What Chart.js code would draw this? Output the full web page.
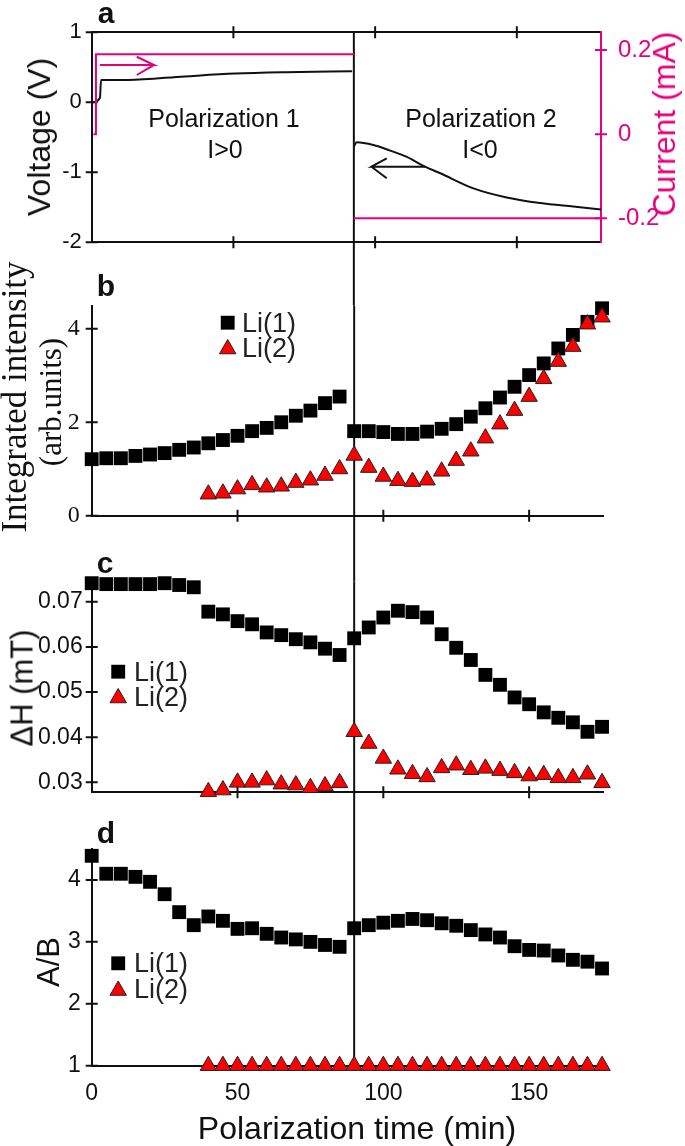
<!DOCTYPE html>
<html>
<head>
<meta charset="utf-8">
<script src="https://cdn.jsdelivr.net/npm/chart.js@4.4.1/dist/chart.umd.min.js"></script>
<style>
  body { margin: 0; background: #fff; }
  #page { position: relative; width: 685px; height: 1146px; overflow: hidden; font-family: "Liberation Sans", Arial, sans-serif; color: #111; }
  #page canvas { position: absolute; left: 0; top: 0; }
  .lbl { position: absolute; white-space: nowrap; line-height: 1; transform: translate(-50%, -50%); }
  .rot { transform: translate(-50%, -50%) rotate(-90deg); }
  .leg { position: absolute; white-space: nowrap; line-height: 1; transform: translateY(-50%); font-size: 27px; color: #222; }
  .serif { font-family: "Liberation Serif", "Times New Roman", serif; }
  .letter { font-weight: bold; font-size: 30px; }
</style>
</head>
<body>
<div id="page">
  <canvas id="chartA" width="685" height="1146"></canvas>
  <canvas id="chartB" width="685" height="1146"></canvas>
  <canvas id="chartC" width="685" height="1146"></canvas>
  <canvas id="chartD" width="685" height="1146"></canvas>

  <div class="lbl letter" style="left:106px;top:13px">a</div>
  <div class="lbl letter" style="left:106px;top:286px">b</div>
  <div class="lbl letter" style="left:105px;top:563px">c</div>
  <div class="lbl letter" style="left:106px;top:833px">d</div>

  <div class="lbl rot" style="left:39px;top:137px;font-size:32px">Voltage (V)</div>
  <div class="lbl rot" style="left:664px;top:124px;font-size:32px;color:#e6007e">Current (mA)</div>
  <div class="lbl" style="left:224px;top:118px;font-size:25px">Polarization 1</div>
  <div class="lbl" style="left:225px;top:149px;font-size:25px">I&gt;0</div>
  <div class="lbl" style="left:481px;top:118px;font-size:25px">Polarization 2</div>
  <div class="lbl" style="left:480px;top:149px;font-size:25px">I&lt;0</div>

  <div class="lbl rot serif" style="left:14px;top:397px;font-size:35px">Integrated intensity</div>
  <div class="lbl rot serif" style="left:50px;top:402px;font-size:31px">(arb.units)</div>
  <div class="lbl rot" style="left:22px;top:688px;font-size:31px">ΔH (mT)</div>
  <div class="lbl rot" style="left:48px;top:962px;font-size:31px">A/B</div>
  <div class="lbl" style="left:357px;top:1128px;font-size:32px">Polarization time (min)</div>

  <div class="leg" style="left:242px;top:323px">Li(1)</div>
  <div class="leg" style="left:242px;top:348px">Li(2)</div>
  <div class="leg" style="left:134px;top:672px">Li(1)</div>
  <div class="leg" style="left:134px;top:697px">Li(2)</div>
  <div class="leg" style="left:134px;top:963px">Li(1)</div>
  <div class="leg" style="left:134px;top:989px">Li(2)</div>
</div>
<script>
const PINK = "#e6007e";
const INK = "#111";

// ---- panel a: voltage / current (its own time axis) ----
const aTicks = [50, 100, 150];
const voltTicks = [-2, -1, 0, 1];
const curTicks = [-0.2, 0, 0.2];
const voltTime1 = [0.5, 2.9, 3.3, 12.8, 32.9, 50.6, 68.2, 91.9];
const volt1 = [0.0, 0.06, 0.32, 0.32, 0.37, 0.41, 0.43, 0.445];
const voltTime2 = [92.5, 93.5, 99.4, 105.3, 111.2, 117.6, 122.8, 134.7, 146.4, 158.2, 169.9, 179.7];
const volt2 = [-0.63, -0.57, -0.61, -0.69, -0.78, -0.92, -1.01, -1.23, -1.36, -1.44, -1.49, -1.53];
const curTime1 = [0.6, 1.5, 1.5, 92.5];
const cur1 = [0, 0, 0.19, 0.19];
const curTime2 = [92.5, 179.7];
const cur2 = [-0.2, -0.2];
const arrowPinkT = [2.9, 22.0, 15.9, 22.0, 15.9];
const arrowPinkV = [0.533, 0.533, 0.651, 0.533, 0.39];
const arrowBlackT = [117.6, 98.7, 104.1, 98.7, 104.1];
const arrowBlackV = [-0.92, -0.92, -0.80, -0.92, -1.086];

// ---- panels b-d ----
const timeTicks = [0, 50, 100, 150];
const intTicks = [0, 2, 4];
const dhTicks = [0.03, 0.04, 0.05, 0.06, 0.07];
const abTicks = [1, 2, 3, 4];

const timeLi1 = [0, 5, 10, 15, 20, 25, 30, 35, 40, 45, 50, 55, 60, 65, 70, 75, 80, 85,
  90, 95, 100, 105, 110, 115, 120, 125, 130, 135, 140, 145, 150, 155, 160, 165, 170, 175];
const timeLi2 = [40, 45, 50, 55, 60, 65, 70, 75, 80, 85,
  90, 95, 100, 105, 110, 115, 120, 125, 130, 135, 140, 145, 150, 155, 160, 165, 170, 175];

const intLi1 = [1.21, 1.23, 1.23, 1.28, 1.31, 1.34, 1.41, 1.46, 1.55, 1.62, 1.71, 1.81, 1.88, 2.00, 2.14, 2.25, 2.41, 2.55,
  1.81, 1.81, 1.79, 1.75, 1.75, 1.80, 1.86, 1.96, 2.12, 2.30, 2.53, 2.76, 3.01, 3.26, 3.58, 3.87, 4.15, 4.44];
const intLi2 = [0.46, 0.48, 0.57, 0.66, 0.61, 0.63, 0.71, 0.76, 0.86, 1.00,
  1.29, 1.03, 0.84, 0.75, 0.73, 0.76, 0.95, 1.18, 1.38, 1.66, 1.96, 2.25, 2.55, 2.93, 3.30, 3.62, 4.10, 4.25];

const dhLi1 = [0.0741, 0.0739, 0.0739, 0.0739, 0.0739, 0.0741, 0.0737, 0.0732, 0.0678, 0.0672, 0.0657, 0.0650, 0.0632, 0.0626, 0.0617, 0.0610, 0.0596, 0.0582,
  0.0619, 0.0643, 0.0665, 0.0680, 0.0677, 0.0665, 0.0628, 0.0598, 0.0571, 0.0538, 0.0516, 0.0488, 0.0473, 0.0455, 0.0443, 0.0433, 0.0412, 0.0423];
const dhLi2 = [0.0279, 0.0283, 0.0300, 0.0300, 0.0305, 0.0296, 0.0294, 0.0288, 0.0292, 0.0299,
  0.0412, 0.0386, 0.0353, 0.0329, 0.0319, 0.0312, 0.0332, 0.0338, 0.0328, 0.0331, 0.0326, 0.0321, 0.0314, 0.0317, 0.0310, 0.0310, 0.0318, 0.0299];

const abLi1 = [4.39, 4.10, 4.10, 4.05, 3.97, 3.77, 3.48, 3.27, 3.41, 3.34, 3.21, 3.22, 3.13, 3.07, 3.04, 3.00, 2.95, 2.92,
  3.22, 3.27, 3.31, 3.34, 3.37, 3.35, 3.30, 3.26, 3.19, 3.12, 3.07, 2.93, 2.87, 2.86, 2.78, 2.71, 2.68, 2.57];
const abLi2 = [1, 1, 1, 1, 1, 1, 1, 1, 1, 1,
  1, 1, 1, 1, 1, 1, 1, 1, 1, 1, 1, 1, 1, 1, 1, 1, 1, 1];

// layout of the four plot areas on the page
const areaTop = [32.3, 305.5, 581.4, 849];
const areaBottom = [242.3, 515.7, 792.3, 1065.7];
const AXIS_LEFT = 91.7;
const PAD_RIGHT = 81.5;

// ================= plugins =================
const splitLine = {
  id: "splitLine",
  beforeDatasetsDraw(chart, args, opts) {
    if (opts.at === undefined) return;
    const { ctx, chartArea } = chart;
    const x = chart.scales.x.getPixelForValue(opts.at);
    ctx.save();
    ctx.strokeStyle = INK;
    ctx.lineWidth = 2;
    ctx.beginPath();
    ctx.moveTo(x, chartArea.top);
    ctx.lineTo(x, opts.to === undefined ? chartArea.bottom : opts.to);
    ctx.stroke();
    ctx.restore();
  }
};

const crossTicks = {
  id: "crossTicks",
  beforeDatasetsDraw(chart, args, opts) {
    const ctx = chart.ctx;
    (opts.scales || []).forEach(s => {
      const scale = chart.scales[s.id];
      ctx.save();
      ctx.strokeStyle = s.color || INK;
      ctx.lineWidth = 2;
      ctx.beginPath();
      scale.ticks.forEach(t => {
        const p = scale.getPixelForValue(t.value);
        if (scale.isHorizontal()) {
          const y = scale.position === "top" ? scale.bottom : scale.top;
          ctx.moveTo(p, y - 6); ctx.lineTo(p, y + 6);
        } else {
          const x = scale.position === "left" ? scale.right : scale.left;
          ctx.moveTo(x - 6, p); ctx.lineTo(x + 6, p);
        }
      });
      ctx.stroke();
      ctx.restore();
    });
  }
};

const markerKey = {
  id: "markerKey",
  afterDatasetsDraw(chart, args, opts) {
    const ctx = chart.ctx;
    (opts.items || []).forEach(it => {
      ctx.save();
      if (it.shape === "rect") {
        const h = 9.8 * Math.SQRT1_2;
        ctx.fillStyle = "#000";
        ctx.fillRect(it.x - h, it.y - h, 2 * h, 2 * h);
      } else {
        const r = 9.5;
        ctx.beginPath();
        ctx.moveTo(it.x, it.y - r);
        ctx.lineTo(it.x + r * Math.sin(Math.PI / 3), it.y + r / 2);
        ctx.lineTo(it.x - r * Math.sin(Math.PI / 3), it.y + r / 2);
        ctx.closePath();
        ctx.fillStyle = "#ff0000";
        ctx.fill();
        ctx.strokeStyle = "#222";
        ctx.lineWidth = 1;
        ctx.stroke();
      }
      ctx.restore();
    });
  }
};

Chart.register(splitLine, crossTicks, markerKey);

// ================= helpers =================
const pts = (xs, ys) => xs.map((x, i) => ({ x, y: ys[i] }));
const fixTicks = list => s => { s.ticks = list.map(v => ({ value: v })); };

function axis(extra) {
  return Object.assign({
    type: "linear",
    grid: { display: false, drawTicks: false },
    border: { display: true, color: INK, width: 2 },
    ticks: { display: false }
  }, extra);
}

function tickFont(size, family) {
  return { display: true, color: INK, font: { size, family: family || "'Liberation Sans', Arial, sans-serif" } };
}

function lineSet(xs, ys, color, yAxisID, smooth) {
  return {
    data: pts(xs, ys), yAxisID, showLine: true, borderColor: color, borderWidth: 2,
    pointRadius: 0, fill: false, clip: false,
    cubicInterpolationMode: smooth ? "monotone" : "default", tension: 0
  };
}

function li1Set(ys) {
  return { data: pts(timeLi1, ys), pointStyle: "rect", pointRadius: 9.8, backgroundColor: "#000", borderColor: "#000", borderWidth: 0, clip: false };
}
function li2Set(ys) {
  return { data: pts(timeLi2, ys), pointStyle: "triangle", pointRadius: 9.5, backgroundColor: "#ff0000", borderColor: "#222", borderWidth: 1, clip: false };
}

function baseOptions(i, scales, plugins, rightPad, bottomPad) {
  return {
    responsive: false, animation: false, events: [],
    layout: { padding: { top: areaTop[i], bottom: bottomPad, left: 0, right: rightPad } },
    plugins: Object.assign({ legend: { display: false }, tooltip: { enabled: false } }, plugins),
    scales
  };
}

// ================= panel a =================
new Chart("chartA", {
  type: "scatter",
  data: {
    datasets: [
      lineSet(curTime1, cur1, PINK, "yI"),
      lineSet(curTime2, cur2, PINK, "yI"),
      lineSet(arrowPinkT, arrowPinkV, PINK, "y"),
      lineSet(voltTime1, volt1, INK, "y", true),
      lineSet(voltTime2, volt2, INK, "y", true),
      lineSet(arrowBlackT, arrowBlackV, INK, "y")
    ]
  },
  options: baseOptions(0, {
    x: axis({ position: "bottom", min: 0, max: 179.7, afterBuildTicks: fixTicks(aTicks), afterFit: s => { s.height = 0; } }),
    xTop: axis({ axis: "x", position: "top", min: 0, max: 179.7, afterBuildTicks: fixTicks(aTicks), afterFit: s => { s.height = 0; } }),
    y: axis({
      position: "left", min: -2, max: 1, afterBuildTicks: fixTicks(voltTicks), afterFit: s => { s.width = AXIS_LEFT; },
      ticks: Object.assign(tickFont(22), { padding: 10, callback: v => String(v) })
    }),
    yI: axis({
      position: "right", min: -0.257, max: 0.242, afterBuildTicks: fixTicks(curTicks), afterFit: s => { s.width = 84; },
      border: { display: true, color: PINK, width: 2 },
      ticks: Object.assign(tickFont(24), { color: PINK, padding: 17, callback: v => (v === 0 ? "0" : v.toFixed(1)) })
    })
  }, {
    splitLine: { at: 92.5, to: areaTop[1] },
    crossTicks: { scales: [{ id: "x" }, { id: "xTop" }, { id: "y" }, { id: "yI", color: PINK }] }
  }, 0, 1146 - areaBottom[0])
});

// ================= panel b =================
new Chart("chartB", {
  type: "scatter",
  data: { datasets: [li2Set(intLi2), li1Set(intLi1)] },
  options: baseOptions(1, {
    x: axis({ min: 0, max: 175.5, afterBuildTicks: fixTicks(aTicks), afterFit: s => { s.height = 0; } }),
    y: axis({
      min: 0, max: 4.5, afterBuildTicks: fixTicks(intTicks), afterFit: s => { s.width = AXIS_LEFT; },
      ticks: Object.assign(tickFont(24, "'Liberation Serif', 'Times New Roman', serif"), { padding: 12, callback: v => String(v) })
    })
  }, {
    splitLine: { at: 90, to: areaTop[2] },
    crossTicks: { scales: [{ id: "x" }, { id: "y" }] },
    markerKey: { items: [{ shape: "rect", x: 227.7, y: 322.7 - areaTop[1] + areaTop[1] }, { shape: "tri", x: 227.7, y: 349 }] }
  }, PAD_RIGHT, 1146 - areaBottom[1])
});

// ================= panel c =================
new Chart("chartC", {
  type: "scatter",
  data: { datasets: [li2Set(dhLi2), li1Set(dhLi1)] },
  options: baseOptions(2, {
    x: axis({ min: 0, max: 175.5, afterBuildTicks: fixTicks(aTicks), afterFit: s => { s.height = 0; } }),
    y: axis({
      min: 0.0278, max: 0.0745, afterBuildTicks: fixTicks(dhTicks), afterFit: s => { s.width = AXIS_LEFT; },
      ticks: Object.assign(tickFont(23), { padding: 9, callback: v => v.toFixed(2) })
    })
  }, {
    splitLine: { at: 90, to: areaTop[3] },
    crossTicks: { scales: [{ id: "x" }, { id: "y" }] },
    markerKey: { items: [{ shape: "rect", x: 118.2, y: 671.7 }, { shape: "tri", x: 118.2, y: 698 }] }
  }, PAD_RIGHT, 1146 - areaBottom[2])
});

// ================= panel d =================
new Chart("chartD", {
  type: "scatter",
  data: { datasets: [li2Set(abLi2), li1Set(abLi1)] },
  options: baseOptions(3, {
    x: axis({
      min: 0, max: 175.5, afterBuildTicks: fixTicks(timeTicks), afterFit: s => { s.height = 1146 - areaBottom[3]; },
      ticks: Object.assign(tickFont(23), { padding: 14, maxRotation: 0, callback: v => String(v) })
    }),
    y: axis({
      min: 1, max: 4.5, afterBuildTicks: fixTicks(abTicks), afterFit: s => { s.width = AXIS_LEFT; },
      ticks: Object.assign(tickFont(23), { padding: 11, callback: v => String(v) })
    })
  }, {
    splitLine: { at: 90 },
    crossTicks: { scales: [{ id: "y" }] },
    markerKey: { items: [{ shape: "rect", x: 118.2, y: 963.3 }, { shape: "tri", x: 118.2, y: 990.5 }] }
  }, PAD_RIGHT, 0)
});
</script>
</body>
</html>
